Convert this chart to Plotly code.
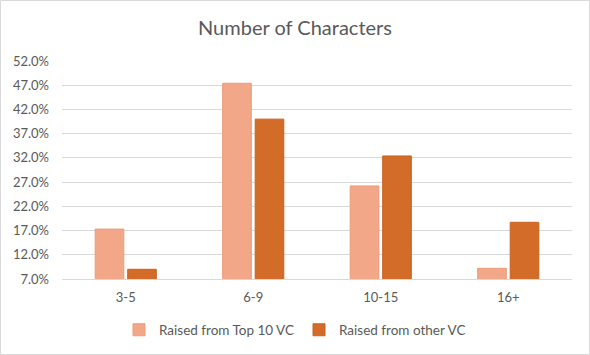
import plotly.graph_objects as go

categories = ["3-5", "6-9", "10-15", "16+"]
top10_vc = [17.3, 47.4, 26.2, 9.2]
other_vc = [9.0, 40.0, 32.4, 18.7]
tick_vals = [7, 12, 17, 22, 27, 32, 37, 42, 47, 52]
tick_text = [f"{v:.1f}%" for v in tick_vals]

W, H = 590, 355
ml, mr, mt, mb = 62, 18, 61, 76
pw, ph = W - ml - mr, H - mt - mb

fig = go.Figure()
fig.add_trace(go.Bar(name="Raised from Top 10 VC", x=categories, y=top10_vc,
                     marker=dict(color="#F1A788", line=dict(color="#EE9A78", width=1))))
fig.add_trace(go.Bar(name="Raised from other VC", x=categories, y=other_vc,
                     marker=dict(color="#D26C28", line=dict(color="#C9621F", width=1))))

fig.update_layout(
    width=W, height=H,
    margin=dict(l=ml, r=mr, t=mt, b=mb, autoexpand=False),
    paper_bgcolor="white", plot_bgcolor="white",
    font=dict(family="Lato, 'Open Sans', sans-serif", color="#595959", size=13),
    title=dict(text="Number of Characters", x=0.5, xanchor="center", xref="container",
               y=1 - 28 / H, yanchor="middle", yref="container",
               font=dict(size=20, color="#595959")),
    barmode="group", bargap=0.49, bargroupgap=0.12,
    showlegend=True,
    legend=dict(orientation="h", x=0.5, xanchor="center", xref="container",
                y=1 - 330 / H, yanchor="middle", yref="container",
                font=dict(size=13.5, color="#595959"), itemwidth=30),
    xaxis=dict(showgrid=False, showline=True, linecolor="#D9D9D9", linewidth=1, ticks="",
               automargin=False, ticklabelstandoff=6, tickfont=dict(size=13, color="#595959")),
    yaxis=dict(range=[7, 52], tickvals=tick_vals, ticktext=tick_text, showgrid=True,
               gridcolor="#D9D9D9", gridwidth=1, zeroline=False, showline=False, ticks="",
               automargin=False, ticklabelstandoff=12,
               tickfont=dict(size=13, color="#595959")),
    shapes=[dict(type="rect", xref="paper", yref="paper",
                 x0=-(ml - 0.5) / pw, x1=1 + (mr - 0.5) / pw,
                 y0=-(mb - 0.5) / ph, y1=1 + (mt - 0.5) / ph,
                 line=dict(color="#D9D9D9", width=1), layer="below")],
)
fig.write_html("out.html", config={"displayModeBar": False},
               post_script="document.body.style.margin='0';document.body.style.overflow='hidden';")
